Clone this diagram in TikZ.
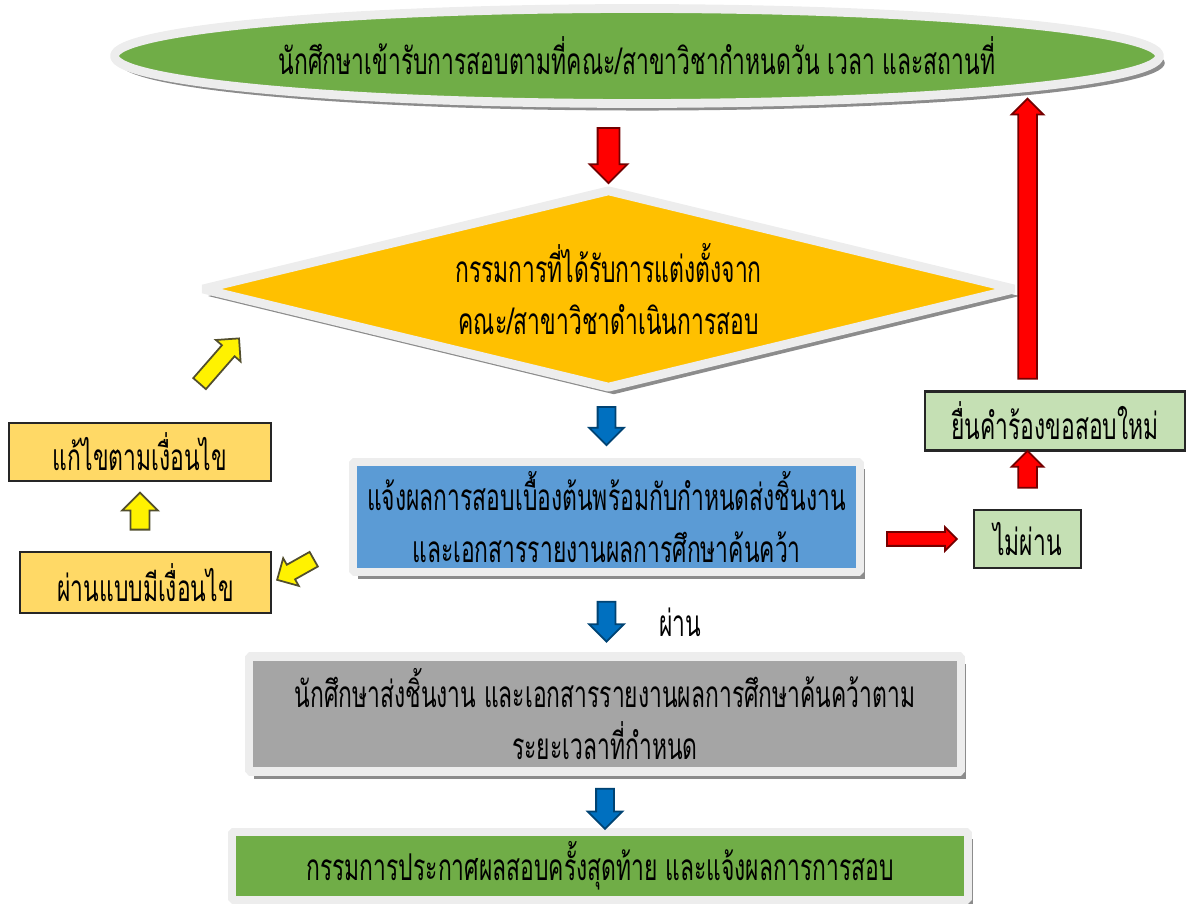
\documentclass[tikz,border=0pt]{standalone}
\usepackage{fontspec}
\newfontfamily\thai[Script=Thai,FakeStretch=0.62]{Loma}
\usepackage{tikz}
\usetikzlibrary{shapes}
\usetikzlibrary{shapes.geometric}
\usetikzlibrary{shapes.arrows}
\usetikzlibrary{shadows}
\usetikzlibrary{calc}
\usetikzlibrary{positioning}

\definecolor{grn}{HTML}{70AD47}
\definecolor{gold}{HTML}{FFC000}
\definecolor{blu}{HTML}{5B9BD5}
\definecolor{gry}{HTML}{A5A5A5}
\definecolor{lgrn}{HTML}{C5E0B4}
\definecolor{lyel}{HTML}{FFD966}
\definecolor{arblue}{HTML}{0070C0}

\tikzset{
every node/.style={font=\thai\fontsize{10.5}{11.4}\selectfont, inner sep=0pt, align=center},
framed/.style={draw=white!93!black, line width=2.5pt, line join=bevel, drop shadow={shadow xshift=1.5pt, shadow yshift=-2pt, fill=black!45, opacity=1}},
plain/.style={rectangle, draw=black!85, line width=0.8pt},
fat/.style={single arrow, sloped, allow upside down, single arrow head indent=0pt, line width=0.5pt, inner xsep=0pt},
redfat/.style={fat, fill=red, draw=red!45!black},
bluefat/.style={fat, fill=arblue, draw=arblue!60!black},
yelfat/.style={fat, fill=yellow, draw=black!55!olive}
}

\begin{document}
\begin{tikzpicture}
\useasboundingbox (0,0) rectangle (11.86,-9.04);

\node[ellipse, framed, fill=grn, minimum width=10.45cm, minimum height=0.95cm] (top) at (6.37,-0.56) {นักศึกษาเข้ารับการสอบตามที่คณะ/สาขาวิชากำหนดวัน เวลา และสถานที่};
\node[diamond, framed, fill=gold, aspect=4.2, minimum width=8.15cm, minimum height=2.0cm] (dia) at (6.085,-2.89) {กรรมการที่ได้รับการแต่งตั้งจาก\\[0.12cm]คณะ/สาขาวิชาดำเนินการสอบ};
\node[rectangle, framed, fill=blu, minimum width=5.07cm, minimum height=1.10cm] (res) at (6.065,-5.17) {แจ้งผลการสอบเบื้องต้นพร้อมกับกำหนดส่งชิ้นงาน\\[0.12cm]และเอกสารรายงานผลการศึกษาค้นคว้า};
\node[plain, fill=lgrn, minimum width=1.07cm, minimum height=0.58cm] (fail) at (10.275,-5.39) {ไม่ผ่าน};
\node[plain, fill=lgrn, minimum width=2.6cm, minimum height=0.59cm] (retry) at (10.55,-4.21) {ยื่นคำร้องขอสอบใหม่};
\node[plain, fill=lyel, minimum width=2.51cm, minimum height=0.61cm] (cond) at (1.455,-5.825) {ผ่านแบบมีเงื่อนไข};
\node[plain, fill=lyel, minimum width=2.62cm, minimum height=0.58cm] (fix) at (1.40,-4.52) {แก้ไขตามเงื่อนไข};
\node (pass) at (6.80,-6.22) {ผ่าน};
\node[rectangle, framed, fill=gry, minimum width=7.12cm, minimum height=1.15cm] (submit) at (6.05,-7.14) {นักศึกษาส่งชิ้นงาน และเอกสารรายงานผลการศึกษาค้นคว้าตาม\\[0.12cm]ระยะเวลาที่กำหนด};
\node[rectangle, framed, fill=grn, minimum width=7.36cm, minimum height=0.68cm] (final) at (6.0,-8.66) {กรรมการประกาศผลสอบครั้งสุดท้าย และแจ้งผลการการสอบ};

\path (dia.north |- top.south) -- node[redfat, pos=0.55, minimum height=0.55cm, minimum width=0.36cm, inner ysep=0.10cm, single arrow head extend=0.08cm] (a1) {} (dia.north);
\path (res.north |- dia.south) -- node[bluefat, pos=0.44, minimum height=0.38cm, minimum width=0.33cm, inner ysep=0.08cm, single arrow head extend=0.085cm] (a2) {} (res.north);
\path (res.south) -- node[bluefat, pos=0.54, minimum height=0.40cm, minimum width=0.33cm, inner ysep=0.08cm, single arrow head extend=0.085cm] (a3) {} (res.south |- submit.north);
\path (submit.south) -- node[bluefat, pos=0.55, minimum height=0.40cm, minimum width=0.33cm, inner ysep=0.08cm, single arrow head extend=0.085cm] (a4) {} (submit.south |- final.north);
\path (res.east |- fail.west) -- node[redfat, minimum height=0.70cm, minimum width=0.22cm, inner ysep=0.06cm, single arrow head extend=0.05cm] (a5) {} (fail.west);
\path (fail.north) -- node[redfat, pos=0.61, minimum height=0.37cm, minimum width=0.30cm, inner ysep=0.085cm, single arrow head extend=0.065cm] (a6) {} (fail.north |- retry.south);
\path (fail.north |- retry.north) -- node[redfat, pos=0.52, minimum height=2.80cm, minimum width=0.30cm, inner ysep=0.085cm, single arrow head extend=0.065cm] (a7) {} (fail.north |- top.south);
\path (res.185) -- node[yelfat, pos=0.65, minimum height=0.42cm, minimum width=0.30cm, inner ysep=0.075cm, single arrow head extend=0.075cm] (a8) {} (cond.east);
\path (fix.south |- cond.north) -- node[yelfat, pos=0.51, minimum height=0.37cm, minimum width=0.34cm, inner ysep=0.085cm, single arrow head extend=0.085cm] (a9) {} (fix.south);
\path ($(fix.north)!0.2!(fix.north east)$) -- node[yelfat, pos=0.5, minimum height=0.60cm, minimum width=0.32cm, inner ysep=0.075cm, single arrow head extend=0.08cm] (a10) {} ($(dia.west)!0.17!(dia.south)$);
\end{tikzpicture}
\end{document}
